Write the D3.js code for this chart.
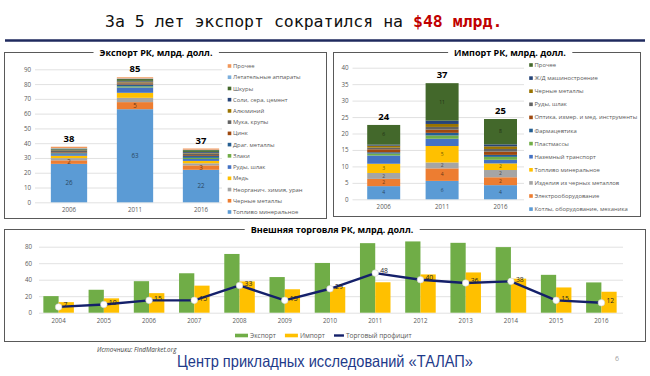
<!DOCTYPE html>
<html><head><meta charset="utf-8">
<script src="https://cdn.jsdelivr.net/npm/d3@7/dist/d3.min.js"></script>
<style>
body{margin:0;background:#fff}
svg{display:block}
text{font-family:"Open Sans","Noto Sans",sans-serif}
</style>
</head><body>
<svg id="c" width="650" height="376"></svg>
<script>
// ---------- DATA ----------
const palette = ["#5B9BD5","#ED7D31","#A5A5A5","#FFC000","#4472C4","#70AD47","#255E91","#9E480E","#636363","#997300","#264478","#43682B","#7CAFDD","#F1975A"];

const exportYears = ["2006","2011","2016"];
const exportSeries = ["Топливо минеральное","Черные металлы","Неорганич. химия, уран","Медь","Руды, шлак","Злаки","Драг. металлы","Цинк","Мука, крупы","Алюминий","Соли, сера, цемент","Шкуры","Летательные аппараты","Прочее"];
const exportValues = [
  [26,63,22],
  [2.4,4.8,3.0],
  [1.5,2.9,1.4],
  [1.6,3.4,1.6],
  [1.1,3.6,1.3],
  [0.4,0.8,0.8],
  [0.6,1.2,1.2],
  [0.4,0.8,0.6],
  [0.8,0.6,1.2],
  [0.4,0.6,0.4],
  [0.5,0.5,0.6],
  [0.6,1.2,1.2],
  [0.3,0.4,0.3],
  [1.0,0.8,0.8]
];
const exportTotals = [38,85,37];
const exportLabeled = ["Топливо минеральное","Черные металлы"];
const exportTicks = [0,10,20,30,40,50,60,70,80,90];

const importYears = ["2006","2011","2016"];
const importSeries = ["Котлы, оборудование, механика","Электрооборудование","Изделия из черных металлов","Топливо минеральное","Наземный транспорт","Пластмассы","Фармацевтика","Оптика, измер. и мед. инструменты","Руды, шлак","Черные металлы","Ж/Д машиностроение","Прочее"];
const importValues = [
  [4.0,5.6,4.3],
  [2.2,3.8,2.4],
  [1.8,1.8,2.2],
  [2.8,5.0,2.0],
  [2.5,2.2,1.1],
  [0.6,1.0,0.9],
  [0.4,0.8,0.6],
  [0.9,1.0,1.0],
  [0.5,0.8,0.8],
  [0.6,0.9,0.8],
  [0.3,1.0,0.6],
  [6.0,11.4,7.7]
];
const importTotals = [24,37,25];
const importLabeled = ["Котлы, оборудование, механика","Электрооборудование","Изделия из черных металлов","Топливо минеральное","Прочее"];
const importTicks = [0,5,10,15,20,25,30,35,40];

const tradeYears = ["2004","2005","2006","2007","2008","2009","2010","2011","2012","2013","2014","2015","2016"];
const tradeExport = [20.1,27.8,38.2,47.8,71.2,43.2,60.3,84.3,86.4,84.7,79.5,45.9,36.7];
const tradeImport = [12.8,17.4,23.7,32.8,37.9,28.4,31.1,36.9,46.4,48.8,41.3,30.6,25.4];
const tradeSurplus = [7,10,15,15,33,15,29,48,40,36,38,15,12];
const tradeTicks = [0,20,40,60,80];
const tradeLegend = ["Экспорт","Импорт","Торговый профицит"];

// ---------- DRAW ----------
const svg = d3.select("#c");
const GRID = "#d9d9d9", AX = "#595959";

// title
const t = svg.append("text").attr("x",105).attr("y",27)
  .style("font-family","'DejaVu Sans Mono','Liberation Mono',monospace").style("font-size","16.5px").attr("fill","#111");
t.append("tspan").text("За 5 лет экспорт сократился на ");
t.append("tspan").attr("fill","#c00000").attr("font-weight","bold").text("$48 млрд.");
svg.append("line").attr("x1",5).attr("x2",645).attr("y1",40.5).attr("y2",40.5)
  .attr("stroke","#1f2a5e").attr("stroke-width",2.5);

function panel(x,y,w,h,title,cx){
  svg.append("rect").attr("x",x).attr("y",y).attr("width",w).attr("height",h)
    .attr("fill","none").attr("stroke","#595959").attr("stroke-width",1);
  const tt = svg.append("text").attr("x",cx).attr("y",y+3.3).attr("text-anchor","middle")
    .style("font-weight","bold").style("font-size","9px").attr("fill","#000").text(title);
  const bb = tt.node().getBBox();
  svg.insert("rect",()=>tt.node()).attr("x",bb.x-6).attr("y",y-2).attr("width",bb.width+12).attr("height",4).attr("fill","#fff");
}

panel(4.5,52.5,322,166,"Экспорт РК, млрд. долл.",156);
panel(333.5,52.5,307,164,"Импорт РК, млрд. долл.",510);
panel(4.5,229.5,641,112,"Внешняя торговля РК, млрд. долл.",332);

function stackChart(o){
  const g = svg.append("g");
  const rows = o.years.map((yr,j)=>{const r={year:yr}; o.series.forEach((s,i)=>r[s]=o.values[i][j]); return r;});
  const stacked = d3.stack().keys(o.series)(rows);
  const x = d3.scaleBand().domain(o.years).range([o.x0,o.x1]).paddingInner(o.pi).paddingOuter(o.pi/2);
  const y = d3.scaleLinear().domain([0,o.ymax]).range([o.y0,o.y1]);
  const color = d3.scaleOrdinal().domain(o.series).range(palette);

  const ya = g.append("g").attr("transform",`translate(${o.gx0},0)`)
    .call(d3.axisLeft(y).tickValues(o.ticks).tickSize(-(o.gx1-o.gx0)).tickPadding(o.tp).tickFormat(d3.format("d")));
  ya.select(".domain").remove();
  ya.selectAll("line").attr("stroke",GRID).attr("stroke-width",0.8);
  ya.selectAll("text").attr("fill",AX).style("font-size","6.2px").style("font-family","'Open Sans',sans-serif");

  const xa = g.append("g").attr("transform",`translate(0,${o.y0})`)
    .call(d3.axisBottom(x).tickSize(0).tickPadding(5.5));
  xa.select(".domain").remove();
  xa.selectAll("text").attr("fill",AX).style("font-size","6.2px").style("font-family","'Open Sans',sans-serif");

  g.append("g").selectAll("g").data(stacked).join("g").attr("fill",d=>color(d.key))
    .selectAll("rect").data(d=>d).join("rect")
    .attr("x",d=>x(d.data.year)).attr("width",x.bandwidth())
    .attr("y",d=>y(d[1])).attr("height",d=>y(d[0])-y(d[1]));

  // segment labels
  stacked.filter(s=>o.labeled.includes(s.key)).forEach(s=>{
    g.append("g").selectAll("text").data(s).join("text")
      .attr("x",d=>x(d.data.year)+x.bandwidth()/2).attr("y",d=>(y(d[0])+y(d[1]))/2).attr("dy","0.33em")
      .attr("text-anchor","middle").style("font-size",o.segFont)
      .attr("fill",d3.color(color(s.key)).darker(2.2))
      .text(d=>Math.round(d[1]-d[0]));
  });
  // totals
  const top = stacked[stacked.length-1];
  g.append("g").selectAll("text").data(top).join("text")
    .attr("x",d=>x(d.data.year)+x.bandwidth()/2).attr("y",d=>y(d[1])-5)
    .attr("text-anchor","middle").style("font-size","9.5px").style("font-weight","bold").attr("fill","#000")
    .text((d,i)=>o.totals[i]);
  // legend (reverse order)
  const leg = o.series.slice().reverse();
  const lg = g.append("g").selectAll("g").data(leg).join("g")
    .attr("transform",(d,i)=>`translate(${o.lx},${o.ly0+i*o.lstep})`);
  lg.append("rect").attr("x",-1.8).attr("y",-1.8).attr("width",3.6).attr("height",3.6).attr("fill",d=>color(d));
  lg.append("text").attr("x",3.5).attr("dy","0.35em").style("font-size","5.9px").attr("fill",AX).text(d=>d);
}

stackChart({years:exportYears,series:exportSeries,values:exportValues,totals:exportTotals,labeled:exportLabeled,
  ticks:exportTicks,ymax:90,x0:36,x1:234,pi:0.45,y0:202.3,y1:69.3,gx0:35,gx1:222,tp:4,
  lx:229.5,ly0:66,lstep:11.23,segFont:"6.2px"});
stackChart({years:importYears,series:importSeries,values:importValues,totals:importTotals,labeled:importLabeled,
  ticks:importTicks,ymax:40,x0:354.5,x1:529.7,pi:0.435,y0:199.3,y1:67.7,gx0:352.5,gx1:524,tp:4,
  lx:531,ly0:65,lstep:13.1,segFont:"5px"});

// ---------- bottom chart ----------
(function(){
  const g = svg.append("g");
  const x = d3.scaleBand().domain(tradeYears).range([36,624]).paddingInner(0.325).paddingOuter(0.1625);
  const x1 = d3.scaleBand().domain(["Экспорт","Импорт"]).range([0,x.bandwidth()]);
  const y = d3.scaleLinear().domain([0,80]).range([312.7,246.7]);
  const colors = {"Экспорт":"#70AD47","Импорт":"#FFC000"};

  const ya = g.append("g").attr("transform","translate(39,0)")
    .call(d3.axisLeft(y).tickValues(tradeTicks).tickSize(-(623-39)).tickPadding(7).tickFormat(d3.format("d")));
  ya.select(".domain").remove();
  ya.selectAll("line").attr("stroke",GRID).attr("stroke-width",0.8);
  ya.selectAll("text").attr("fill",AX).style("font-size","6.2px").style("font-family","'Open Sans',sans-serif");

  const xa = g.append("g").attr("transform","translate(0,312.7)")
    .call(d3.axisBottom(x).tickSize(0).tickPadding(5.5));
  xa.select(".domain").remove();
  xa.selectAll("text").attr("fill",AX).style("font-size","6.2px").style("font-family","'Open Sans',sans-serif");

  const rows = tradeYears.map((yr,i)=>({year:yr,"Экспорт":tradeExport[i],"Импорт":tradeImport[i],s:tradeSurplus[i]}));
  const grp = g.append("g").selectAll("g").data(rows).join("g").attr("transform",d=>`translate(${x(d.year)},0)`);
  grp.selectAll("rect").data(d=>["Экспорт","Импорт"].map(k=>({k,v:d[k]}))).join("rect")
    .attr("x",d=>x1(d.k)).attr("width",x1.bandwidth())
    .attr("y",d=>y(d.v)).attr("height",d=>y(0)-y(d.v)).attr("fill",d=>colors[d.k]);

  const cx = d=>x(d.year)+x.bandwidth()/2;
  g.append("path").datum(rows).attr("fill","none").attr("stroke","#14206a").attr("stroke-width",2.4)
    .attr("stroke-linejoin","round")
    .attr("d",d3.line().x(cx).y(d=>y(d.s)));
  g.append("g").selectAll("circle").data(rows).join("circle")
    .attr("cx",cx).attr("cy",d=>y(d.s)).attr("r",3.3)
    .attr("fill","#fff").attr("stroke","#d0d0d0").attr("stroke-width",0.6);
  g.append("g").selectAll("text").data(rows).join("text")
    .attr("x",d=>cx(d)+5).attr("y",d=>y(d.s)-2).attr("dy","0.35em")
    .style("font-size","6.8px").attr("fill","#262626").text(d=>d.s);

  // legend
  const lg = g.append("g").attr("transform","translate(235,335.5)");
  let lx = 0;
  tradeLegend.forEach((name,i)=>{
    if(i<2){
      lg.append("rect").attr("x",lx).attr("y",-1.8).attr("width",13).attr("height",3.6).attr("fill",colors[name]);
    } else {
      lg.append("line").attr("x1",lx).attr("x2",lx+10).attr("y1",0).attr("y2",0).attr("stroke","#14206a").attr("stroke-width",2.4);
    }
    const tx = lg.append("text").attr("x",lx+(i<2?15:12)).attr("dy","0.35em").style("font-size","6.6px").attr("fill",AX).text(name);
    lx += (i<2?15:12) + tx.node().getComputedTextLength() + 9;
  });
})();

// footer
svg.append("text").attr("x",97).attr("y",352).style("font-size","6.3px").style("font-style","italic")
  .attr("fill","#404040").text("Источники: FindMarket.org");
svg.append("text").attr("x",177).attr("y",367)
  .attr("textLength",296).attr("lengthAdjust","spacingAndGlyphs")
  .style("font-family","'Liberation Sans','Roboto',sans-serif").style("font-size","16.5px")
  .attr("fill","#1e3a8a").text("Центр прикладных исследований «ТАЛАП»");
svg.append("text").attr("x",617).attr("y",361).attr("text-anchor","middle").style("font-size","7px")
  .attr("fill","#a0a0a0").text("6");
</script>
</body></html>
